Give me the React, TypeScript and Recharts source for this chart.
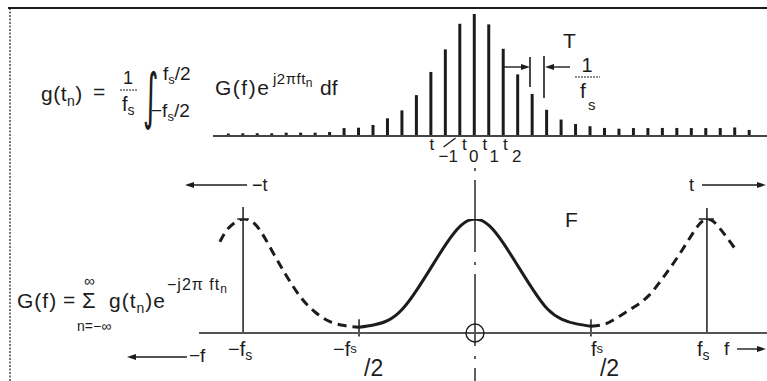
import React from "react";
import { BarChart, Bar, LineChart, Line, XAxis, YAxis, ReferenceLine, ReferenceDot } from "recharts";

const sampleIndex = [
  -17, -16, -15, -14, -13, -12, -11, -10, -9, -8, -7, -6, -5, -4, -3, -2, -1, 0, 1, 2, 3, 4, 5, 6, 7, 8, 9, 10, 11, 12,
  13, 14, 15, 16, 17, 18, 19,
];
const sampleValues = [
  0.02, 0.022, 0.022, 0.022, 0.027, 0.027, 0.027, 0.033, 0.065, 0.068, 0.09, 0.145, 0.21, 0.335, 0.525, 0.71, 0.92,
  1.0, 0.915, 0.715, 0.505, 0.345, 0.215, 0.135, 0.098, 0.08, 0.066, 0.06, 0.065, 0.065, 0.066, 0.066, 0.065, 0.065,
  0.065, 0.07, 0.05,
];
const sampleTicks = [-1, 0, 1, 2];
const sampleTickSubs = ["\u22121", "0", "1", "2"];

// frequency in units of fs and the spectrum G(f)
const freq = [
  -1.1, -1.0625, -1, -0.9375, -0.875, -0.8125, -0.75, -0.6875, -0.625, -0.5625, -0.5, -0.4375, -0.375, -0.3125, -0.25,
  -0.1875, -0.125, -0.0625, 0, 0.0625, 0.125, 0.1875, 0.25, 0.3125, 0.375, 0.4375, 0.5, 0.5625, 0.625, 0.6875, 0.75,
  0.8125, 0.875, 0.9375, 1, 1.0625, 1.125,
];
const spectrumMain = [
  null, null, null, null, null, null, null, null, null, null, 0.05, 0.07, 0.11, 0.21, 0.38, 0.58, 0.78, 0.94, 1.0, 0.94,
  0.78, 0.58, 0.38, 0.21, 0.12, 0.08, 0.06, null, null, null, null, null, null, null, null, null, null,
];
const spectrumAlias = [
  0.8, 0.92, 1.0, 0.93, 0.72, 0.5, 0.31, 0.18, 0.1, 0.065, 0.05, null, null, null, null, null, null, null, null, null,
  null, null, null, null, null, null, 0.06, 0.08, 0.15, 0.23, 0.33, 0.49, 0.67, 0.87, 1.0, 0.9, 0.73,
];
const freqTicks = [-1, -0.5, 0.5, 1];
const freqTickLabels = ["\u2212f", "\u2212f", "f", "f"];

const stems = sampleIndex.map((n, i) => ({ n, g: sampleValues[i] }));
const spectrum = freq.map((f, i) => ({ f, main: spectrumMain[i], alias: spectrumAlias[i] }));

const INK = "#1c1c1c";
const FONT = "'Liberation Sans', Arial, sans-serif";

const sampleTickLayout: Record<string, { t: number; sub: number }> = {
  "-1": { t: -30, sub: -21 },
  "0": { t: -12, sub: -5 },
  "1": { t: -6, sub: 1 },
  "2": { t: 0, sub: 9 },
};

function SampleTick(props: any) {
  const { x, y, payload } = props;
  const v = payload.value;
  const i = sampleTicks.indexOf(v);
  const lay = sampleTickLayout[String(v)] || { t: -4, sub: 2 };
  return (
    <g fontFamily={FONT} fill={INK}>
      <text x={x + lay.t} y={y + 14} fontSize={17}>
        t
      </text>
      <text x={x + lay.sub} y={y + 26} fontSize={17}>
        {sampleTickSubs[i]}
      </text>
      {v === -1 && <line x1={x - 16} y1={y + 11} x2={x - 4} y2={y + 2} stroke={INK} strokeWidth={1.3} />}
    </g>
  );
}

function FreqTick(props: any) {
  const { x, y, payload } = props;
  const v = payload.value;
  const i = freqTicks.indexOf(v);
  const label = freqTickLabels[i];
  const half = Math.abs(v) < 1;
  if (!half) {
    const dx = v < 0 ? -15 : -10;
    return (
      <g fontFamily={FONT} fill={INK}>
        <text x={x + dx} y={y + 23} fontSize={20}>
          {label}
          <tspan fontSize={14} dy={4}>
            s
          </tspan>
        </text>
      </g>
    );
  }
  const dx = v < 0 ? -26 : 0;
  return (
    <g fontFamily={FONT} fill={INK}>
      <text x={x + dx} y={y + 23} fontSize={20}>
        {label}
        <tspan fontSize={13} dy={-3}>
          s
        </tspan>
      </text>
      <text x={x + (v < 0 ? 5 : 9)} y={y + 43} fontSize={23}>
        /2
      </text>
    </g>
  );
}

function Arrow({ x1, x2, y }: { x1: number; x2: number; y: number }) {
  // arrow head at x2
  const dir = x2 > x1 ? 1 : -1;
  return (
    <g>
      <line x1={x1} y1={y} x2={x2 - dir * 6} y2={y} stroke={INK} strokeWidth={1.4} />
      <polygon points={`${x2},${y} ${x2 - dir * 9},${y - 3} ${x2 - dir * 9},${y + 3}`} fill={INK} />
    </g>
  );
}

function Overlay() {
  return (
    <svg
      width={767}
      height={381}
      style={{ position: "absolute", left: 0, top: 0, pointerEvents: "none" }}
      fontFamily={FONT}
      fill={INK}
    >
      {/* frame */}
      <line x1={8} y1={8} x2={767} y2={8} stroke={INK} strokeWidth={2} />
      <line x1={10} y1={8} x2={10} y2={381} stroke={INK} strokeWidth={1.2} strokeDasharray="2 1.5" />

      {/* g(t_n) = 1/fs ∫ G(f) e^{j2πft_n} df */}
      <text x={41} y={101} fontSize={21} letterSpacing={0.5}>
        g(t
        <tspan fontSize={14} dy={5}>
          n
        </tspan>
        <tspan dy={-5}>)</tspan>
      </text>
      <text x={93} y={99} fontSize={21}>
        =
      </text>
      <text x={128} y={84} fontSize={18} textAnchor="middle">
        1
      </text>
      <line x1={120} y1={90} x2={137} y2={90} stroke={INK} strokeWidth={1.2} strokeDasharray="2 1" />
      <text x={122} y={111} fontSize={20}>
        f
        <tspan fontSize={14} dy={4}>
          s
        </tspan>
      </text>
      <text
        x={143}
        y={117}
        fontSize={60}
        fontFamily="'DejaVu Sans', sans-serif"
        transform="translate(143,117) scale(0.5,1.02) translate(-143,-117)"
      >
        ∫
      </text>
      <text x={163} y={80} fontSize={19}>
        f
        <tspan fontSize={13} dy={4}>
          s
        </tspan>
        <tspan dy={-4}>/2</tspan>
      </text>
      <text x={151} y={117} fontSize={19}>
        −f
        <tspan fontSize={13} dy={4}>
          s
        </tspan>
        <tspan dy={-4}>/2</tspan>
      </text>
      <text x={215} y={95} fontSize={21} letterSpacing={1.5}>
        G(f)e
      </text>
      <text x={273} y={84} fontSize={15} letterSpacing={0.5}>
        j2πft
        <tspan fontSize={12} dy={3}>
          n
        </tspan>
      </text>
      <text x={320} y={95} fontSize={21}>
        df
      </text>

      {/* T and 1/fs annotation */}
      <Arrow x1={503} x2={530} y={67} />
      <line x1={530} y1={57} x2={530} y2={87} stroke={INK} strokeWidth={1.6} />
      <line x1={544} y1={56} x2={544} y2={98} stroke={INK} strokeWidth={1.6} />
      <Arrow x1={570} x2={545} y={67} />
      <text x={563} y={48} fontSize={21}>
        T
      </text>
      <text x={587} y={72} fontSize={20} textAnchor="middle">
        1
      </text>
      <line x1={575} y1={77} x2={600} y2={77} stroke={INK} strokeWidth={1.2} strokeDasharray="2 1" />
      <text x={580} y={98} fontSize={21}>
        f
      </text>
      <text x={588} y={110} fontSize={15}>
        s
      </text>

      {/* time direction arrows */}
      <Arrow x1={247} x2={185} y={185} />
      <text x={252} y={191} fontSize={18}>
        −t
      </text>
      <text x={689} y={191} fontSize={18}>
        t
      </text>
      <Arrow x1={702} x2={766} y={185} />

      {/* frequency direction arrows */}
      <Arrow x1={187} x2={127} y={357} />
      <text x={189} y={362} fontSize={19}>
        −f
      </text>
      <text x={724} y={355} fontSize={19}>
        f
      </text>
      <Arrow x1={737} x2={766} y={349} />

      <text x={565} y={227} fontSize={21}>
        F
      </text>

      {/* G(f) = Σ g(t_n) e^{-j2πft_n} */}
      <text x={17} y={308} fontSize={21} letterSpacing={1}>
        G(f)
      </text>
      <text x={63} y={307} fontSize={21}>
        =
      </text>
      <text x={82} y={308} fontSize={22}>
        Σ
      </text>
      <text x={84} y={286} fontSize={15}>
        ∞
      </text>
      <text x={77} y={331} fontSize={14}>
        n=−∞
      </text>
      <text x={109} y={308} fontSize={21} letterSpacing={1}>
        g(t
        <tspan fontSize={14} dy={5}>
          n
        </tspan>
        <tspan dy={-5}>)e</tspan>
      </text>
      <text x={167} y={290} fontSize={16} letterSpacing={1}>
        −j2π ft
        <tspan fontSize={12} dy={3}>
          n
        </tspan>
      </text>
    </svg>
  );
}

export default function App() {
  return (
    <div style={{ position: "absolute", left: 0, top: 0, width: 767, height: 381, background: "#fff" }}>
      <div style={{ position: "absolute", left: 0, top: 0 }}>
        <BarChart width={767} height={175} data={stems} margin={{ top: 14, right: 0, left: 213, bottom: 0 }}>
          <XAxis
            dataKey="n"
            type="number"
            domain={[-18.04, 20.25]}
            allowDataOverflow
            ticks={sampleTicks}
            interval={0}
            height={39}
            tickSize={0}
            tickMargin={0}
            tickLine={false}
            axisLine={{ stroke: "#444", strokeWidth: 2 }}
            tick={<SampleTick />}
          />
          <YAxis hide domain={[0, 1]} allowDataOverflow />
          <Bar dataKey="g" fill={INK} barSize={3} isAnimationActive={false} />
        </BarChart>
      </div>
      <div style={{ position: "absolute", left: 0, top: 150 }}>
        <LineChart width={767} height={231} data={spectrum} margin={{ top: 69, right: 0, left: 199, bottom: 0 }}>
          <XAxis
            dataKey="f"
            type="number"
            domain={[-1.19, 1.259]}
            allowDataOverflow
            ticks={freqTicks}
            interval={0}
            height={48}
            tickSize={0}
            tickMargin={0}
            tickLine={false}
            axisLine={{ stroke: "#555", strokeWidth: 2 }}
            tick={<FreqTick />}
          />
          <YAxis hide domain={[0, 1]} allowDataOverflow />
          <ReferenceLine
            segment={[{ x: 0, y: 1.447 }, { x: 0, y: -0.42 }]}
            stroke={INK}
            strokeWidth={1.4}
            strokeDasharray="3 9 72 10"
            ifOverflow="visible"
          />
          <ReferenceLine segment={[{ x: -1, y: 0 }, { x: -1, y: 1.105 }]} stroke={INK} strokeWidth={1.5} ifOverflow="visible" />
          <ReferenceLine segment={[{ x: 1, y: 0 }, { x: 1, y: 1.096 }]} stroke={INK} strokeWidth={1.5} ifOverflow="visible" />
          <ReferenceLine segment={[{ x: -1.025, y: 1.0 }, { x: -0.975, y: 1.0 }]} stroke={INK} strokeWidth={1.5} ifOverflow="visible" />
          <ReferenceLine segment={[{ x: 0.965, y: 1.0 }, { x: 1.03, y: 1.0 }]} stroke={INK} strokeWidth={1.5} ifOverflow="visible" />
          <ReferenceLine segment={[{ x: -0.5, y: -0.03 }, { x: -0.5, y: 0.12 }]} stroke={INK} strokeWidth={1.5} ifOverflow="visible" />
          <ReferenceLine segment={[{ x: 0.5, y: -0.03 }, { x: 0.5, y: 0.12 }]} stroke={INK} strokeWidth={1.5} ifOverflow="visible" />
          <ReferenceDot x={0} y={0} r={9} fill="none" stroke={INK} strokeWidth={1.4} ifOverflow="visible" />
          <Line
            dataKey="alias"
            type="natural"
            stroke={INK}
            strokeWidth={3}
            strokeDasharray="9 6"
            dot={false}
            isAnimationActive={false}
          />
          <Line dataKey="main" type="natural" stroke={INK} strokeWidth={3} dot={false} isAnimationActive={false} />
        </LineChart>
      </div>
      <Overlay />
    </div>
  );
}
